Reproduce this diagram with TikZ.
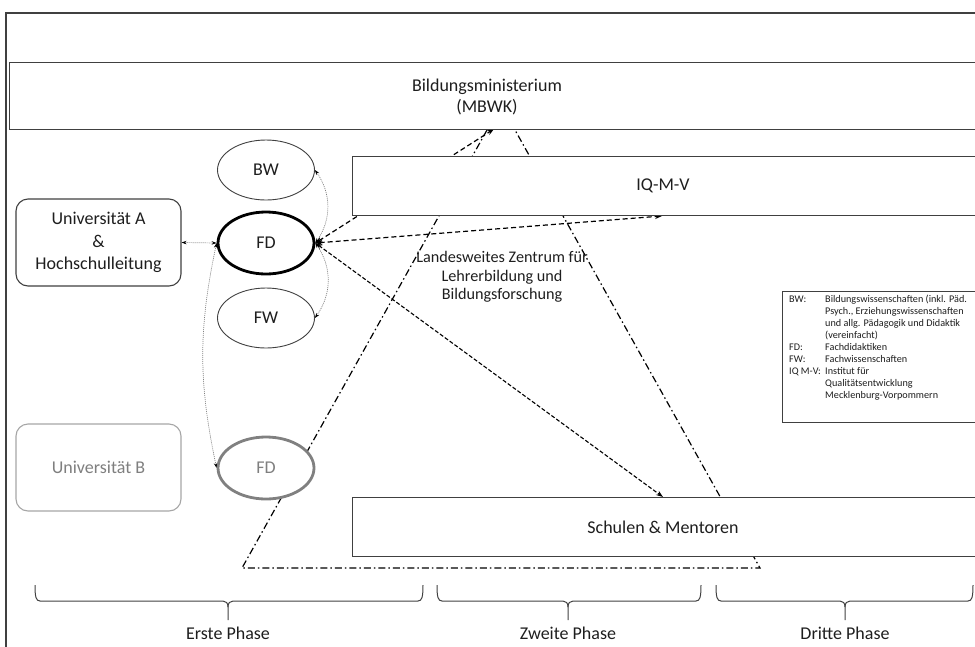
\documentclass[tikz,border=0pt]{standalone}
\usepackage{fontspec}
\setmainfont{Carlito}
\usetikzlibrary{arrows.meta,shapes.geometric}
\pgfdeclarelayer{bg}
\pgfsetlayers{bg,main}
\definecolor{boxline}{HTML}{404040}
\definecolor{greyline}{HTML}{808080}
\definecolor{greybox}{HTML}{A6A6A6}
\definecolor{greytext}{HTML}{7F7F7F}
\definecolor{txt}{HTML}{1E1E1E}
\newcommand{\phbrace}[3]{%
  \draw[bracestyle] (#1,585) .. controls (#1,597) and (#1+1,601) .. (#1+5,601) -- (#2-5,601) .. controls (#2-2,601) and (#2,603) .. (#2,607) -- (#2,620);
  \draw[bracestyle] (#2,607) .. controls (#2,603) and (#2+2,601) .. (#2+5,601) -- (#3-5,601) .. controls (#3-1,601) and (#3,597) .. (#3,585);}
\begin{document}
\begin{tikzpicture}[x=1pt,y=-1pt,
  every node/.style={text=txt},
  mainfont/.style={font=\fontsize{18}{21.5}\selectfont},
  box/.style={rectangle, draw=boxline, line width=1.2pt, fill=white, inner sep=0pt, anchor=north west},
  rbox/.style={rectangle, rounded corners=12pt, draw=boxline, line width=1.1pt, fill=white, inner sep=0pt,
     minimum width=165pt, minimum height=87pt, align=center, font=\fontsize{18}{22.5}\selectfont},
  ell/.style={ellipse, draw=boxline, line width=0.9pt, fill=white, inner sep=0pt,
     minimum width=97pt, minimum height=60pt, font=\fontsize{18}{21}\selectfont},
  dasharrow/.style={{Stealth[length=7pt,width=5pt]}-{Stealth[length=7pt,width=5pt]}, line width=1.2pt, dash pattern=on 5pt off 3pt, black},
  dasharrowb/.style={{Stealth[length=7pt,width=5pt]}-{Stealth[length=7pt,width=5pt]}, line width=1.1pt, dash pattern=on 4pt off 2pt, black},
  dotarrow/.style={{Stealth[length=5pt,width=3.5pt,black]}-{Stealth[length=5pt,width=3.5pt,black]}, line width=0.7pt, greyline, dash pattern=on 1pt off 1pt},
  dashdotline/.style={line width=1.2pt, black, dash pattern=on 7pt off 3pt on 1.5pt off 3pt},
  bracestyle/.style={line width=1pt, boxline},
  phase/.style={mainfont}
]
\useasboundingbox (0,0) rectangle (975,646);
\clip (0,0) rectangle (975,646);

% outer frame
\draw[line width=2pt, boxline] (6,660) -- (6,13) -- (990,13);

% boxes
\node[box, minimum width=990pt, minimum height=67pt] (mbwk) at (9,62) {};
\node[mainfont, align=center] (mbwktext) at (487,97) {Bildungsministerium\\(MBWK)};
\node[box, minimum width=650pt, minimum height=59pt] (iq) at (352,156) {};
\node[mainfont] (iqtext) at (663,186) {IQ-M-V};
\node[box, minimum width=650pt, minimum height=59pt] (sch) at (352,497) {};
\node[mainfont] (schtext) at (663,527) {Schulen \& Mentoren};
\node[box, line width=1.1pt, minimum width=220pt, minimum height=131pt] (leg) at (782,291) {};
\node[anchor=north west, inner sep=0pt, font=\fontsize{10.2}{12}\selectfont] (legtext) at (789,294)
{\begin{tabular}{@{}p{33pt}@{\hspace{3pt}}l@{}}
BW: & Bildungswissenschaften (inkl. Päd.\\
 & Psych., Erziehungswissenschaften\\
 & und allg. Pädagogik und Didaktik\\
 & (vereinfacht)\\
FD: & Fachdidaktiken\\
FW: & Fachwissenschaften\\
IQ M-V: & Institut für\\
 & Qualitätsentwicklung\\
 & Mecklenburg-Vorpommern
\end{tabular}};

\node[rbox] (unia) at (98.5,242.5) {Universität A\\\&\\Hochschulleitung};
\node[rbox, draw=greybox, text=greytext] (unib) at (98.5,467.5) {Universität B};

\node[ell] (bw) at (266,170) {BW};
\node[ell, line width=2.8pt, draw=black, minimum height=62pt, minimum width=96pt] (fd) at (266,243) {FD};
\node[ell] (fw) at (266,318) {FW};
\node[ell, line width=2.8pt, draw=greyline, text=greytext, minimum height=62pt, minimum width=96pt] (fdb) at (266,468) {FD};

\node[align=center, font=\fontsize{16.2}{18.5}\selectfont] (lz) at (502,277) {Landesweites Zentrum für\\Lehrerbildung und\\Bildungsforschung};

% free connector ends
\coordinate (mbwkpt) at (494,129);
\coordinate (iqpt) at (662,216);
\coordinate (schpt) at (663,497);
\coordinate (apex) at (501,105);
\coordinate (tl) at (242,568);
\coordinate (tr) at (760,568);

\begin{pgfonlayer}{bg}
  \draw[dashdotline] (apex) -- (tl) -- (tr) -- cycle;
  \draw[dasharrow] (fd.east) -- (mbwkpt);
  \draw[dasharrow] (fd.east) -- (iqpt);
  \draw[dasharrowb] (fd.east) -- (schpt);
  \draw[dotarrow] (fd.west) -- (unia.east);
  \draw[dotarrow] (fd.west) to[bend right=12] (fdb.west);
  \draw[dotarrow] (fd.east) to[bend right=35] (bw.east);
  \draw[dotarrow] (fd.east) to[bend left=35] (fw.east);
\end{pgfonlayer}

% braces
\phbrace{35}{228}{423}
\phbrace{437}{568}{701}
\phbrace{716}{845}{973}
\node[phase] (p1) at (228,633) {Erste Phase};
\node[phase] (p2) at (568,633) {Zweite Phase};
\node[phase] (p3) at (845,633) {Dritte Phase};
\end{tikzpicture}
\end{document}
